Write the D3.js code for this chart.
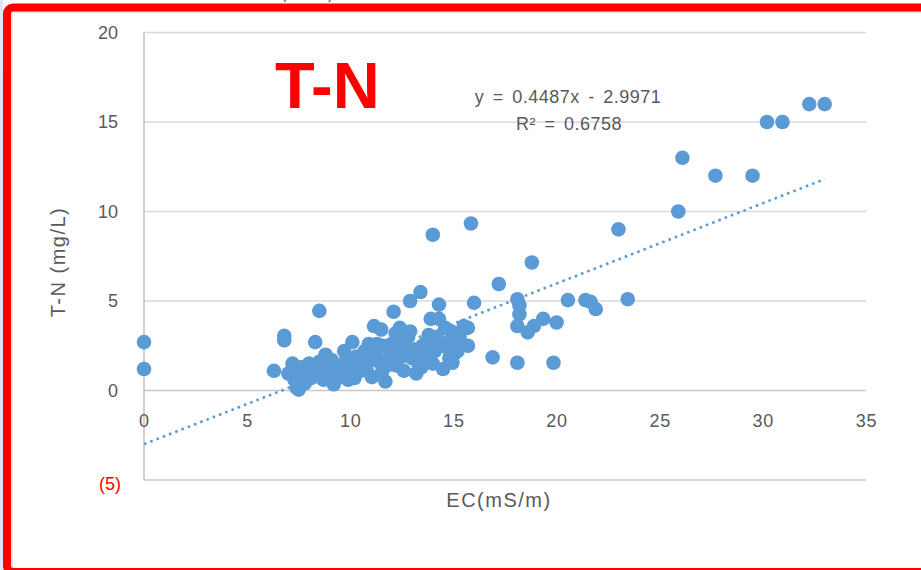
<!DOCTYPE html>
<html>
<head>
<meta charset="utf-8">
<script src="https://cdn.jsdelivr.net/npm/d3@7"></script>
<style>
  html, body { margin: 0; padding: 0; background: #fff; }
  svg { display: block; font-family: "Liberation Sans", Arial, sans-serif; }
</style>
</head>
<body>
<svg id="chart" width="921" height="570"></svg>
<script>
// EC (mS/m) of each sample
const ec = [
  0, 0, 6.3, 6.8, 6.8, 7.0, 7.2, 7.3, 7.4, 7.5, 7.6, 7.6, 7.8, 7.9, 8.0, 8.1, 8.2, 8.3, 8.4, 8.5,
  8.5, 8.7, 8.8, 8.9, 9.0, 9.1, 9.2, 9.4, 9.5, 9.6, 9.7, 9.8, 9.9, 10.0, 10.1, 10.2, 10.3, 10.35, 10.5, 10.6,
  10.7, 10.8, 10.9, 11.0, 11.05, 11.15, 11.2, 11.3, 11.4, 11.5, 11.55, 11.6, 11.7, 11.8, 11.9, 12.0, 12.0, 12.1, 12.2, 12.2,
  12.3, 12.4, 12.4, 12.5, 12.6, 12.75, 12.8, 12.9, 12.9, 13.0, 13.1, 13.2, 13.2, 13.3, 13.4, 13.45, 13.5, 13.6, 13.7, 13.8,
  13.85, 13.9, 13.9, 14.0, 14.0, 14.1, 14.2, 14.3, 14.3, 14.4, 14.5, 14.6, 14.7, 14.8, 14.9, 14.9, 14.95, 15.0, 15.1, 15.2,
  15.3, 15.5, 15.7, 15.7, 15.85, 16.0, 16.9, 17.2, 18.1, 18.1, 18.2, 18.2, 18.1, 18.6, 18.8, 18.9, 19.35, 19.85, 20.0, 20.55,
  21.4, 21.65, 21.9, 23.0, 23.45, 25.9, 26.1, 27.7, 29.5, 30.2, 30.95, 32.25, 33.0
];
// T-N (mg/L) of each sample
const tn = [
  2.7, 1.2, 1.1, 3.05, 2.8, 0.95, 1.5, 0.6, 0.15, 0.05, 0.8, 1.3, 0.4, 1.0, 1.5, 0.7, 1.2, 2.7, 0.9, 4.45,
  1.6, 0.6, 2.0, 1.3, 0.9, 1.7, 0.35, 0.7, 1.4, 1.0, 2.2, 1.7, 0.6, 1.2, 2.7, 0.7, 1.9, 1.0, 1.5, 1.2,
  2.2, 1.1, 2.6, 1.7, 0.75, 3.6, 2.0, 2.6, 1.6, 3.4, 1.1, 2.5, 0.5, 1.4, 2.0, 1.5, 2.6, 4.4, 1.4, 3.2,
  2.2, 3.5, 2.9, 1.9, 1.1, 2.4, 3.0, 3.3, 5.0, 1.8, 2.3, 2.05, 0.95, 1.5, 5.5, 1.3, 2.5, 2.0, 2.7, 3.1,
  1.7, 4.0, 2.5, 8.7, 1.5, 2.2, 3.0, 4.8, 4.0, 2.7, 1.2, 3.5, 2.4, 1.8, 3.3, 2.8, 1.55, 2.0, 2.7, 2.2,
  3.0, 3.6, 3.5, 2.5, 9.33, 4.9, 1.85, 5.95, 5.1, 3.6, 4.75, 4.25, 1.55, 3.25, 7.15, 3.6, 4.0, 1.55, 3.8, 5.05,
  5.05, 4.95, 4.55, 9.0, 5.1, 10.0, 13.0, 12.0, 12.0, 15.0, 15.0, 16.0, 16.0
];

const xTicks = [0, 5, 10, 15, 20, 25, 30, 35];
const yTicks = [-5, 0, 5, 10, 15, 20];

// linear trendline fitted to the samples
const slope = 0.4487;
const intercept = -2.9971;
const rSquared = 0.6758;

const chartTitle = "T-N";
const xTitle = "EC(mS/m)";
const yTitle = "T-N (mg/L)";

const svg = d3.select("#chart");
const W = 921, H = 570;

const x = d3.scaleLinear().domain([0, 35]).range([144, 866]);
const y = d3.scaleLinear().domain([-5, 20]).range([480, 32.5]);

const labelColor = "#595959";
const fs = 18;

// light strip at the very left edge
svg.append("rect").attr("x", 0).attr("y", 0).attr("width", 3).attr("height", H).attr("fill", "#dde7f1");

// caption text above the frame
svg.append("text")
  .attr("x", 281).attr("y", -1)
  .attr("font-size", 16).attr("fill", labelColor)
  .text("(mS/m)");

// horizontal gridlines
svg.append("g").selectAll("line")
  .data(yTicks)
  .join("line")
  .attr("x1", x(0)).attr("x2", x(35))
  .attr("y1", d => y(d)).attr("y2", d => y(d))
  .attr("stroke", d => (d === 0 || d === -5) ? "#c8c8c8" : "#d9d9d9")
  .attr("stroke-width", 1.6);

// vertical axis line
svg.append("line")
  .attr("x1", x(0)).attr("x2", x(0))
  .attr("y1", y(20)).attr("y2", y(-5))
  .attr("stroke", "#c3c3c3").attr("stroke-width", 1.6);

// y axis labels; negatives shown in red parentheses
const yAxis = d3.axisLeft(y)
  .tickValues(yTicks)
  .tickSize(0)
  .tickPadding(26)
  .tickFormat(d => d < 0 ? `(${Math.abs(d)})` : d3.format("d")(d));
const gy = svg.append("g").attr("transform", `translate(${x(0)},0)`).call(yAxis);
gy.select(".domain").remove();
gy.selectAll("text")
  .attr("font-size", fs)
  .attr("font-family", "'Liberation Sans', Arial, sans-serif")
  .attr("fill", d => d < 0 ? "#ff0000" : labelColor)
  .attr("dx", d => d < 0 ? 3 : 0)
  .attr("dy", d => d < 0 ? "0.5em" : "0.32em");

// x axis labels sit under the zero line
const xAxis = d3.axisBottom(x)
  .tickValues(xTicks)
  .tickSize(0)
  .tickPadding(24)
  .tickFormat(d3.format("d"));
const gx = svg.append("g").attr("transform", `translate(0,${y(0)})`).call(xAxis);
gx.select(".domain").remove();
gx.selectAll("text")
  .attr("font-size", fs)
  .attr("letter-spacing", 0.8)
  .attr("font-family", "'Liberation Sans', Arial, sans-serif")
  .attr("fill", labelColor);

// scatter points
const pts = ec.map((e, i) => ({ ec: e, tn: tn[i] }));
svg.append("g").selectAll("circle")
  .data(pts)
  .join("circle")
  .attr("cx", d => x(d.ec))
  .attr("cy", d => y(d.tn))
  .attr("r", 7.3)
  .attr("fill", "#5b9bd5");

// dotted trendline across the data range
const xMax = d3.max(ec);
svg.append("line")
  .attr("x1", x(0)).attr("y1", y(intercept))
  .attr("x2", x(xMax)).attr("y2", y(slope * xMax + intercept))
  .attr("stroke", "#5b9bd5")
  .attr("stroke-width", 2.6)
  .attr("stroke-dasharray", "2.6 4.1");

// equation and R² label
const eq = svg.append("g").attr("font-size", 18).attr("fill", labelColor)
  .attr("text-anchor", "middle").attr("word-spacing", 3).attr("letter-spacing", 0.5);
eq.append("text").attr("x", 568).attr("y", 103)
  .text(`y = ${slope}x - ${Math.abs(intercept)}`);
eq.append("text").attr("x", 569).attr("y", 130)
  .text(`R² = ${rSquared}`);

// big red chart title
svg.append("text")
  .attr("x", 275).attr("y", 108)
  .attr("font-size", 65).attr("font-weight", "bold")
  .attr("fill", "#ff0000")
  .text(chartTitle);

// axis titles
svg.append("text")
  .attr("x", 499).attr("y", 507)
  .attr("text-anchor", "middle")
  .attr("font-size", 20).attr("letter-spacing", 1.5).attr("fill", labelColor)
  .text(xTitle);

svg.append("text")
  .attr("transform", "translate(65,262) rotate(-90)")
  .attr("text-anchor", "middle")
  .attr("font-size", 20).attr("letter-spacing", 1.5).attr("fill", labelColor)
  .text(yTitle);

// red frame with a faint inner shadow
svg.append("rect")
  .attr("x", 12).attr("y", 12).attr("width", 930).attr("height", 580)
  .attr("fill", "none").attr("stroke", "#dcdcdc").attr("stroke-width", 1.5);
svg.append("rect")
  .attr("x", 7).attr("y", 7.5).attr("width", 940).attr("height", 564.5)
  .attr("rx", 6).attr("ry", 6)
  .attr("fill", "none").attr("stroke", "#ff0000").attr("stroke-width", 8);
</script>
</body>
</html>
